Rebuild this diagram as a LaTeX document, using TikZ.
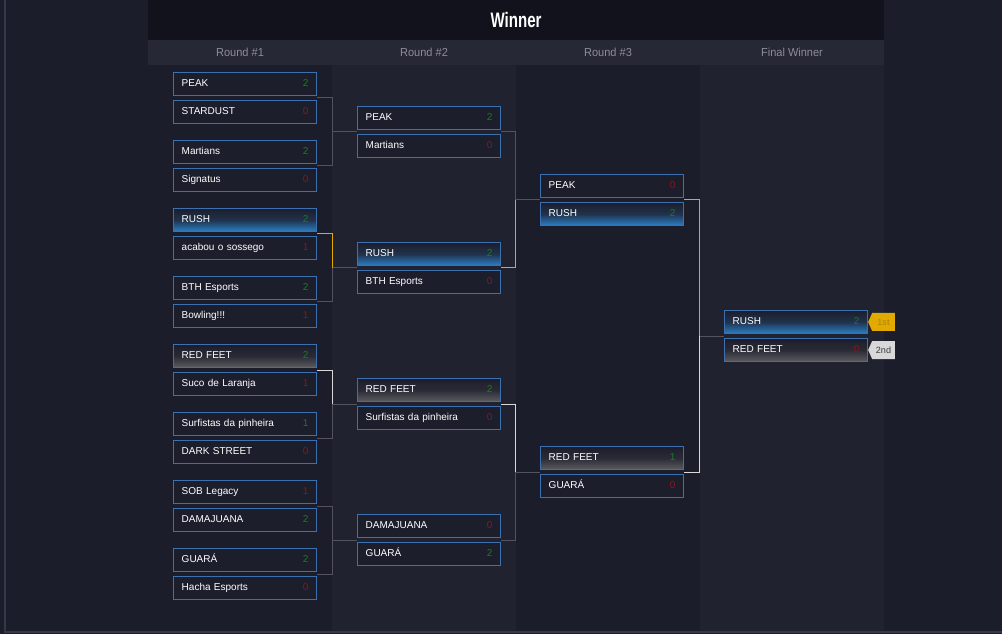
\documentclass[tikz,border=0pt]{standalone}
\usepackage{fontspec}
\setmainfont{Liberation Sans}
\newfontfamily\headfont[FakeStretch=0.95]{Liberation Sans}
\newfontfamily\titlefont[FakeStretch=0.72]{Liberation Sans}
\usetikzlibrary{calc,shapes.symbols}
\definecolor{page}{HTML}{1C1D2B}
\definecolor{panel}{HTML}{21222F}
\definecolor{topbar}{HTML}{11121C}
\definecolor{roundbar}{HTML}{272836}
\definecolor{frame}{HTML}{363747}
\definecolor{boxline}{HTML}{3D70AE}
\definecolor{boxfill}{HTML}{1D1E2C}
\definecolor{rushblue}{HTML}{2B7DC2}
\definecolor{feetgrey}{HTML}{5A5A5E}
\definecolor{win}{HTML}{1E7A1E}
\definecolor{lose}{HTML}{8E1515}
\definecolor{wiregrey}{HTML}{52535C}
\definecolor{gold}{HTML}{E2A900}
\definecolor{goldtext}{HTML}{A8850F}
\definecolor{silver}{HTML}{D8D8D8}
\definecolor{tagdark}{HTML}{3A3A3A}
\definecolor{roundtext}{HTML}{8C8D96}
\tikzset{
  team/.style={draw=boxline,line width=1.1pt,fill=boxfill,text=white,
    font=\fontsize{7.5}{9}\selectfont,minimum height=16.9pt,text width=95pt,
    inner xsep=6pt,inner ysep=0pt,align=left,text height=5.5pt,text depth=1.5pt},
  plain/.style={},
  rushbox/.style={top color=boxfill,bottom color=rushblue,middle color=boxfill!78!rushblue},
  feetbox/.style={top color=boxfill,bottom color=feetgrey,middle color=boxfill!80!feetgrey},
  wire/.style={draw=wiregrey,line width=0.75pt},
  goldwire/.style={draw=gold,line width=0.75pt},
  silverwire/.style={draw=silver,line width=0.75pt},
  tag/.style={signal,signal to=west,signal pointer angle=132,minimum height=13.5pt,
    minimum width=20pt,inner sep=0pt,outer sep=0pt,font=\fontsize{6.8}{8}\selectfont},
  roundlabel/.style={text=roundtext,font=\headfont\fontsize{8.7}{10}\selectfont},
}

\begin{document}
\begin{tikzpicture}[x=0.75pt,y=-0.75pt]
  \useasboundingbox (0,0) rectangle (1002,634);
  % backdrop
  \fill[page] (0,0) rectangle (1002,634);
  \fill[panel] (332,65) rectangle (516,632);
  \fill[panel] (700,65) rectangle (884,632);
  \fill[topbar] (148,0) rectangle (884,40);
  \fill[roundbar] (148,40) rectangle (884,65);
  \draw[frame,line width=0.8pt] (5,0) -- (5,632) -- (1002,632);
  \node[text=white,font=\titlefont\bfseries\fontsize{15.7}{18}\selectfont] (title) at (516,20) {Winner};
  \foreach \i/\x/\t in {1/240/Round \#1,2/424/Round \#2,3/608/Round \#3,4/792/Final Winner}
    \node[roundlabel] (hd\i) at (\x,52.5) {\t};
  % the matches, two boxes each
  \foreach \rd/\x/\m/\y/\ta/\sca/\fa/\tb/\scb/\fb in {
    1/173/1/98/PEAK/2/plain/STARDUST/0/plain,
    1/173/2/166/Martians/2/plain/Signatus/0/plain,
    1/173/3/234/RUSH/2/rushbox/acabou o sossego/1/plain,
    1/173/4/302/BTH Esports/2/plain/Bowling!!!/1/plain,
    1/173/5/370/RED FEET/2/feetbox/Suco de Laranja/1/plain,
    1/173/6/438/Surfistas da pinheira/1/plain/DARK STREET/0/plain,
    1/173/7/506/SOB Legacy/1/plain/DAMAJUANA/2/plain,
    1/173/8/574/GUARÁ/2/plain/Hacha Esports/0/plain,
    2/357/1/132/PEAK/2/plain/Martians/0/plain,
    2/357/2/268/RUSH/2/rushbox/BTH Esports/0/plain,
    2/357/3/404/RED FEET/2/feetbox/Surfistas da pinheira/0/plain,
    2/357/4/540/DAMAJUANA/0/plain/GUARÁ/2/plain,
    3/540/1/200/PEAK/0/plain/RUSH/2/rushbox,
    3/540/2/472/RED FEET/1/feetbox/GUARÁ/0/plain,
    4/724/1/336/RUSH/2/rushbox/RED FEET/0/feetbox}
  {
    \ifnum\sca>\scb \def\cola{win}\def\colb{lose}\else \def\cola{lose}\def\colb{win}\fi
    \node[team,\fa,anchor=south west] (r\rd a\m) at (\x,\y-2) {\ta\hfill\textcolor{\cola}{\sca}};
    \node[team,\fb,anchor=north west] (r\rd b\m) at (\x,\y+2) {\tb\hfill\textcolor{\colb}{\scb}};
    \coordinate (r\rd e\m) at ($(r\rd a\m.south east)!0.5!(r\rd b\m.north east)$);
    \coordinate (r\rd w\m) at ($(r\rd a\m.south west)!0.5!(r\rd b\m.north west)$);
  }
  % brackets into the next round
  \foreach \rd/\pr/\m/\wa/\wb in {2/1/1/wire/wire,2/1/2/goldwire/wire,2/1/3/silverwire/wire,
      2/1/4/wire/wire,3/2/1/wire/goldwire,3/2/2/silverwire/wire,4/3/1/goldwire/silverwire}
  {
    \pgfmathtruncatemacro\ia{2*\m-1}
    \pgfmathtruncatemacro\ib{2*\m}
    \coordinate (r\rd v\m) at ($(r\rd w\m)+(-25,0)$);
    \draw[wire] (r\rd v\m) -- (r\rd w\m);
    \draw[\wa] (r\pr e\ia) -| (r\rd v\m);
    \draw[\wb] (r\pr e\ib) -| (r\rd v\m);
  }
  % placings
  \node[tag,fill=gold,text=goldtext,anchor=west] (first) at (r4a1.east) {1st};
  \node[tag,fill=silver,text=tagdark,anchor=west] (second) at (r4b1.east) {2nd};
\end{tikzpicture}
\end{document}
